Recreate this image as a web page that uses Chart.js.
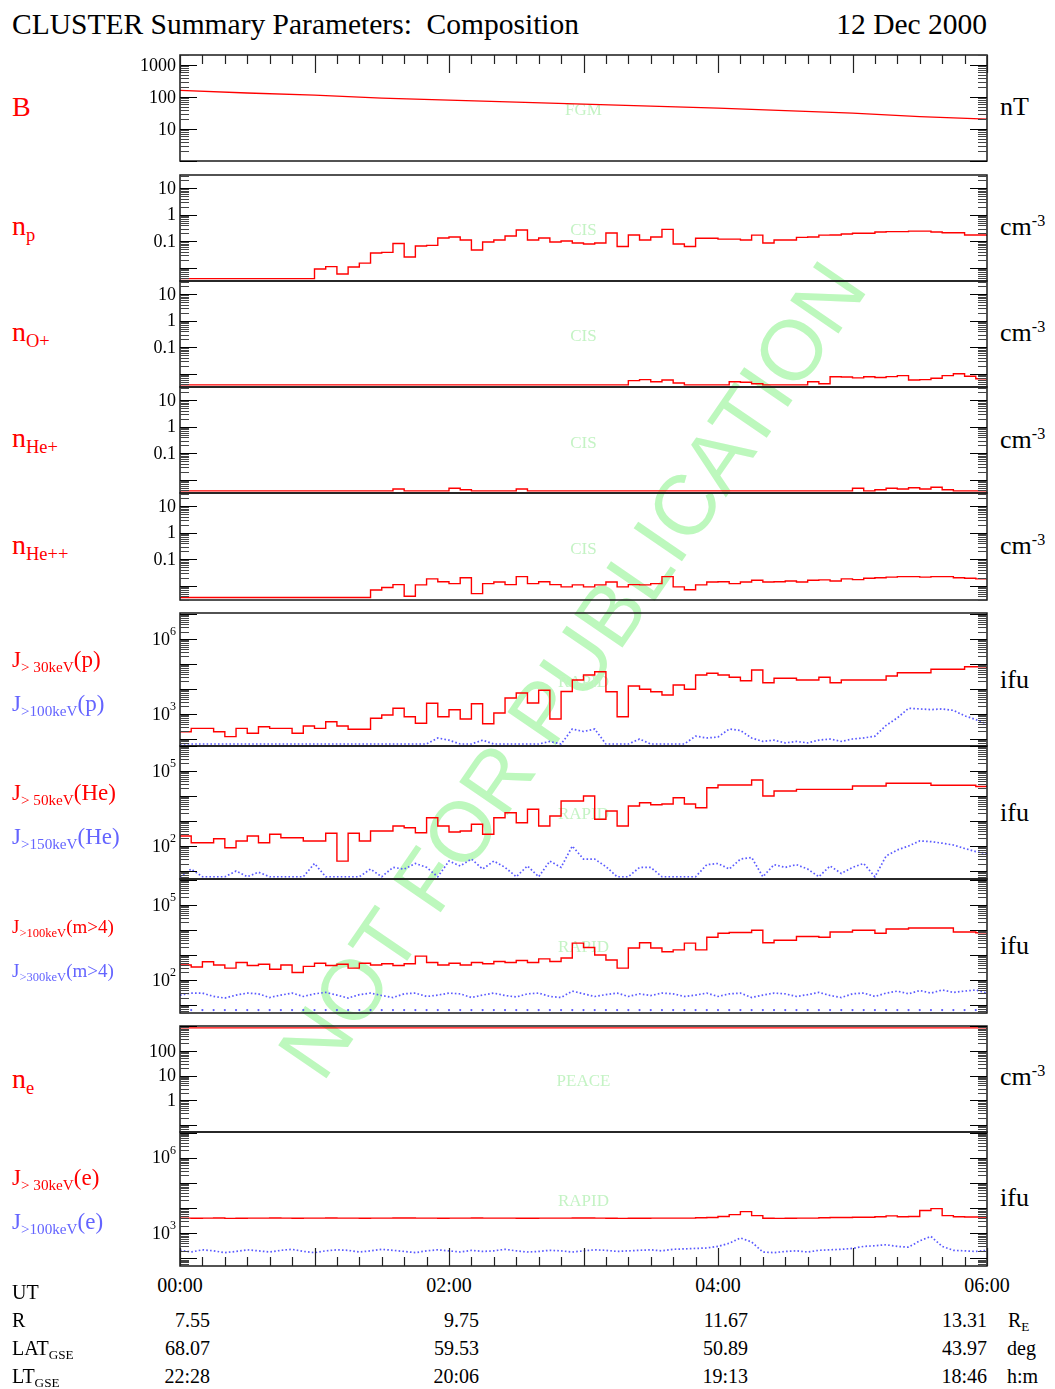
<!DOCTYPE html>
<html>
<head>
<meta charset="utf-8">
<title>CLUSTER Summary Parameters: Composition</title>
<script src="https://cdn.jsdelivr.net/npm/chart.js@4.4.1/dist/chart.umd.min.js"></script>
<style>
  body { margin: 0; background: #fff; }
  #page { position: relative; width: 1055px; height: 1389px; overflow: hidden;
          font-family: "Liberation Serif", "DejaVu Serif", serif; }
  #page canvas { position: absolute; z-index: 1; }
  .wm { position: absolute; left: 572px; top: 670px; z-index: 0;
        transform: translate(-50%, -50%) rotate(-55.5deg);
        font-family: "Liberation Sans", Arial, sans-serif; font-size: 85px;
        color: #bdf8bd; white-space: nowrap; }
  .t { position: absolute; z-index: 2; white-space: nowrap; line-height: 1; }
  .red { color: #ff0000; }
  .blue { color: #6464ff; }
  .t sub { font-size: 66%; vertical-align: -0.3em; line-height: 0; }
  .t sup { font-size: 62%; vertical-align: 0.55em; line-height: 0; }
  .c { transform: translateX(-50%); }
</style>
</head>
<body>
<div id="page">
  <div class="wm">NOT FOR PUBLICATION</div>

  <div class="t" style="left:12px;top:10px;font-size:29.5px">CLUSTER Summary Parameters:&nbsp; Composition</div>
  <div class="t" style="right:68px;top:10px;font-size:29.5px">12 Dec 2000</div>

  <!-- left labels -->
  <div class="t red" style="left:12px;top:93px;font-size:28px">B</div>
  <div class="t red" style="left:12px;top:212px;font-size:28px">n<sub>p</sub></div>
  <div class="t red" style="left:12px;top:318px;font-size:28px">n<sub>O+</sub></div>
  <div class="t red" style="left:12px;top:424px;font-size:28px">n<sub>He+</sub></div>
  <div class="t red" style="left:12px;top:531px;font-size:28px">n<sub>He++</sub></div>
  <div class="t red" style="left:12px;top:648px;font-size:23px">J<sub>&gt; 30keV</sub>(p)</div>
  <div class="t blue" style="left:12px;top:692px;font-size:23px">J<sub>&gt;100keV</sub>(p)</div>
  <div class="t red" style="left:12px;top:781px;font-size:23px">J<sub>&gt; 50keV</sub>(He)</div>
  <div class="t blue" style="left:12px;top:825px;font-size:23px">J<sub>&gt;150keV</sub>(He)</div>
  <div class="t red" style="left:12px;top:917px;font-size:19px">J<sub>&gt;100keV</sub>(m&gt;4)</div>
  <div class="t blue" style="left:12px;top:961px;font-size:19px">J<sub>&gt;300keV</sub>(m&gt;4)</div>
  <div class="t red" style="left:12px;top:1065px;font-size:28px">n<sub>e</sub></div>
  <div class="t red" style="left:12px;top:1166px;font-size:23px">J<sub>&gt; 30keV</sub>(e)</div>
  <div class="t blue" style="left:12px;top:1210px;font-size:23px">J<sub>&gt;100keV</sub>(e)</div>

  <!-- right units -->
  <div class="t" style="left:1000px;top:94px;font-size:26px">nT</div>
  <div class="t" style="left:1000px;top:214px;font-size:26px">cm<sup>-3</sup></div>
  <div class="t" style="left:1000px;top:320px;font-size:26px">cm<sup>-3</sup></div>
  <div class="t" style="left:1000px;top:427px;font-size:26px">cm<sup>-3</sup></div>
  <div class="t" style="left:1000px;top:533px;font-size:26px">cm<sup>-3</sup></div>
  <div class="t" style="left:1000px;top:667px;font-size:26px">ifu</div>
  <div class="t" style="left:1000px;top:800px;font-size:26px">ifu</div>
  <div class="t" style="left:1000px;top:933px;font-size:26px">ifu</div>
  <div class="t" style="left:1000px;top:1064px;font-size:26px">cm<sup>-3</sup></div>
  <div class="t" style="left:1000px;top:1185px;font-size:26px">ifu</div>

  <!-- orbit rows -->
  <div class="t" style="left:12px;top:1282px;font-size:20px">UT</div>
  <div class="t c" style="left:180px;top:1275px;font-size:20px">00:00</div>
  <div class="t c" style="left:449px;top:1275px;font-size:20px">02:00</div>
  <div class="t c" style="left:718px;top:1275px;font-size:20px">04:00</div>
  <div class="t c" style="left:987px;top:1275px;font-size:20px">06:00</div>

  <div class="t" style="left:12px;top:1310px;font-size:20px">R</div>
  <div class="t" style="right:845px;top:1310px;font-size:20px">7.55</div>
  <div class="t" style="right:576px;top:1310px;font-size:20px">9.75</div>
  <div class="t" style="right:307px;top:1310px;font-size:20px">11.67</div>
  <div class="t" style="right:68px;top:1310px;font-size:20px">13.31</div>
  <div class="t" style="left:1008px;top:1310px;font-size:20px">R<sub>E</sub></div>

  <div class="t" style="left:12px;top:1338px;font-size:20px">LAT<sub>GSE</sub></div>
  <div class="t" style="right:845px;top:1338px;font-size:20px">68.07</div>
  <div class="t" style="right:576px;top:1338px;font-size:20px">59.53</div>
  <div class="t" style="right:307px;top:1338px;font-size:20px">50.89</div>
  <div class="t" style="right:68px;top:1338px;font-size:20px">43.97</div>
  <div class="t" style="left:1007px;top:1338px;font-size:20px">deg</div>

  <div class="t" style="left:12px;top:1366px;font-size:20px">LT<sub>GSE</sub></div>
  <div class="t" style="right:845px;top:1366px;font-size:20px">22:28</div>
  <div class="t" style="right:576px;top:1366px;font-size:20px">20:06</div>
  <div class="t" style="right:307px;top:1366px;font-size:20px">19:13</div>
  <div class="t" style="right:68px;top:1366px;font-size:20px">18:46</div>
  <div class="t" style="left:1007px;top:1366px;font-size:20px">h:m</div>
</div>

<script>
/*---------- Time axes (minutes after 00:00 UT) ----------*/
const minutes = [0, 5, 10, 15, 20, 25, 30, 35, 40, 45, 50, 55,
  60, 65, 70, 75, 80, 85, 90, 95, 100, 105, 110, 115,
  120, 125, 130, 135, 140, 145, 150, 155, 160, 165, 170, 175,
  180, 185, 190, 195, 200, 205, 210, 215, 220, 225, 230, 235,
  240, 245, 250, 255, 260, 265, 270, 275, 280, 285, 290, 295,
  300, 305, 310, 315, 320, 325, 330, 335, 340, 345, 350, 355, 360];
const halfHours = [0, 30, 60, 90, 120, 150, 180, 210, 240, 270, 300, 330, 360];

/*---------- Tick labels ----------*/
const bTicks = [10, 100, 1000];
const densTicks = [0.1, 1, 10];
const fluxTicksP = [1e3, 1e6];
const fluxTicksHe = [1e2, 1e5];
const eDensTicks = [1, 10, 100];

/*---------- FGM field magnitude (nT) ----------*/
const bField = [161, 133, 115, 92, 80, 69, 60, 52, 45, 37.6, 31.5, 24.5, 20.4];

/*---------- CIS densities (cm-3) ----------*/
const protonDens = [
  0.0039, 0.0039, 0.0039, 0.0039, 0.0039, 0.0039, 0.0039, 0.0039, 0.0039, 0.0039,
  0.0039, 0.0039, 0.009, 0.011, 0.0058, 0.0107, 0.015, 0.036, 0.038, 0.082,
  0.0255, 0.066, 0.07, 0.133, 0.145, 0.111, 0.047, 0.094, 0.111, 0.158,
  0.266, 0.111, 0.133, 0.094, 0.102, 0.086, 0.079, 0.086, 0.205, 0.063,
  0.172, 0.111, 0.145, 0.28, 0.079, 0.063, 0.13, 0.13, 0.12, 0.12,
  0.111, 0.17, 0.086, 0.111, 0.111, 0.14, 0.145, 0.17, 0.172, 0.188,
  0.2, 0.2, 0.224, 0.23, 0.23, 0.24, 0.24, 0.224, 0.21, 0.21,
  0.172, 0.172, 0.158];
const oxygenDens = [
  0.0038, 0.0038, 0.0038, 0.0038, 0.0038, 0.0038, 0.0038, 0.0038, 0.0038, 0.0038,
  0.0038, 0.0038, 0.0038, 0.0038, 0.0038, 0.0038, 0.0038, 0.0038, 0.0038, 0.0038,
  0.0038, 0.0038, 0.0038, 0.0038, 0.0038, 0.0038, 0.0038, 0.0038, 0.0038, 0.0038,
  0.0038, 0.0038, 0.0038, 0.0038, 0.0038, 0.0038, 0.0038, 0.0038, 0.0038, 0.0038,
  0.0055, 0.006, 0.005, 0.0058, 0.0045, 0.0038, 0.0038, 0.0038, 0.0038, 0.005,
  0.0048, 0.0042, 0.0038, 0.0038, 0.0038, 0.0038, 0.005, 0.0042, 0.0077, 0.0075,
  0.007, 0.0077, 0.0072, 0.0078, 0.0085, 0.0058, 0.006, 0.0068, 0.0085, 0.01,
  0.008, 0.0065, 0.0062];
const heliumDens = [
  0.0038, 0.0038, 0.0038, 0.0038, 0.0038, 0.0038, 0.0038, 0.0038, 0.0038, 0.0038,
  0.0038, 0.0038, 0.0038, 0.0038, 0.0038, 0.0038, 0.0038, 0.0038, 0.0038, 0.0045,
  0.0038, 0.0038, 0.0038, 0.0038, 0.0048, 0.0042, 0.0038, 0.0038, 0.0038, 0.0038,
  0.0045, 0.0038, 0.0038, 0.0038, 0.0038, 0.0038, 0.0038, 0.0038, 0.0038, 0.0038,
  0.0038, 0.0038, 0.0038, 0.0038, 0.0038, 0.0038, 0.0038, 0.0038, 0.0038, 0.0038,
  0.0038, 0.0038, 0.0038, 0.0038, 0.0038, 0.0038, 0.0038, 0.0038, 0.0038, 0.0038,
  0.0048, 0.0038, 0.0042, 0.0048, 0.0045, 0.005, 0.0045, 0.0052, 0.0042, 0.0038,
  0.0038, 0.0038, 0.0038];
const alphaDens = [
  0.0036, 0.0036, 0.0036, 0.0036, 0.0036, 0.0036, 0.0036, 0.0036, 0.0036, 0.0036,
  0.0036, 0.0036, 0.0036, 0.0036, 0.0036, 0.0036, 0.0036, 0.0069, 0.0085, 0.011,
  0.004, 0.0107, 0.018, 0.014, 0.012, 0.02, 0.005, 0.012, 0.0138, 0.011,
  0.022, 0.012, 0.014, 0.011, 0.009, 0.0107, 0.009, 0.0107, 0.0138, 0.009,
  0.011, 0.0107, 0.012, 0.022, 0.009, 0.007, 0.0107, 0.0138, 0.014, 0.012,
  0.0138, 0.016, 0.0138, 0.014, 0.015, 0.0138, 0.016, 0.0165, 0.015, 0.018,
  0.017, 0.019, 0.02, 0.021, 0.022, 0.022, 0.021, 0.022, 0.022, 0.02,
  0.019, 0.018, 0.017];

/*---------- RAPID ion fluxes (ifu) ----------*/
const protonFlux = [
  196, 267, 267, 196, 124, 267, 169, 311, 267, 267,
  169, 331, 267, 493, 331, 244, 244, 673, 912, 1690,
  780, 425, 2680, 780, 1480, 630, 2570, 409, 1096, 4370,
  6920, 2750, 8870, 630, 8000, 22900, 36300, 49200, 7800, 780,
  13200, 9730, 7800, 5750, 14500, 9730, 36300, 42500, 36300, 29400,
  21500, 57500, 17900, 26800, 26800, 22900, 22900, 29400, 17900, 22900,
  22900, 22900, 22900, 33100, 44900, 44900, 44900, 61400, 61400, 61400,
  78000, 78000, 70000];
const protonFluxHi = [
  63, 63, 63, 63, 63, 63, 63, 63, 63, 63,
  63, 63, 63, 63, 63, 63, 63, 63, 63, 63,
  63, 63, 63, 110, 90, 63, 63, 90, 63, 63,
  63, 63, 63, 80, 63, 250, 200, 250, 63, 63,
  63, 100, 63, 63, 63, 63, 130, 110, 120, 250,
  220, 110, 80, 90, 70, 80, 70, 90, 100, 80,
  100, 110, 130, 350, 700, 1700, 1600, 1500, 1600, 1400,
  850, 600, 400];
const heliumFlux = [
  251, 136, 136, 196, 85, 158, 251, 136, 294, 215,
  215, 158, 158, 322, 25, 322, 158, 400, 400, 630,
  540, 340, 1355, 630, 363, 400, 738, 294, 1355, 2150,
  855, 2940, 630, 1585, 6300, 6300, 10000, 1170, 2500, 630,
  4000, 5400, 4500, 4800, 8550, 4800, 3400, 21500, 27500, 27500,
  27500, 43700, 10000, 15800, 15800, 18500, 18500, 18500, 18500, 18500,
  25100, 25100, 25100, 32200, 32200, 32200, 32200, 26800, 26800, 26800,
  26800, 24000, 26800];
const heliumFluxHi = [
  5.9, 12, 5.9, 5.9, 5.9, 10, 5.9, 9, 5.9, 5.9,
  5.9, 5.9, 20, 5.9, 5.9, 5.9, 5.9, 12, 5.9, 14,
  12, 20, 14, 5.9, 25, 16, 30, 12, 25, 14,
  5.9, 16, 5.9, 25, 14, 100, 30, 30, 15, 5.9,
  5.9, 14, 14, 5.9, 5.9, 5.9, 5.9, 18, 20, 12,
  30, 35, 5.9, 18, 14, 18, 12, 5.9, 16, 8,
  14, 20, 5.9, 40, 70, 100, 160, 150, 130, 110,
  80, 60, 50];
const heavyFlux = [
  400, 330, 540, 400, 300, 500, 380, 430, 270, 400,
  200, 350, 470, 380, 430, 300, 470, 400, 450, 380,
  450, 900, 500, 400, 470, 400, 500, 450, 550, 500,
  600, 500, 700, 550, 760, 3000, 2000, 1000, 630, 300,
  1900, 3100, 1900, 1350, 1600, 3000, 1600, 5100, 7400, 8000,
  8000, 9800, 3100, 3900, 3900, 5500, 5500, 5100, 8300, 8300,
  9800, 9800, 7400, 11000, 11000, 12000, 12000, 12000, 12000, 8300,
  8300, 7800, 7800];
const heavyFluxHi = [
  25, 30, 30, 22, 19, 25, 30, 28, 20, 25,
  30, 22, 28, 32, 25, 19, 26, 30, 24, 20,
  28, 30, 22, 25, 30, 28, 20, 25, 30, 24,
  21, 28, 30, 22, 20, 36, 28, 22, 26, 30,
  22, 28, 24, 30, 28, 22, 25, 30, 22, 28,
  30, 20, 25, 30, 28, 22, 26, 32, 24, 20,
  28, 30, 22, 30, 36, 28, 38, 30, 40, 32,
  36, 40, 30];
const heavyFluxFloor = [
  6.3, 6.3, 6.3, 6.3, 6.3, 6.3, 6.3, 6.3, 6.3, 6.3,
  6.3, 6.3, 6.3, 6.3, 6.3, 6.3, 6.3, 6.3, 6.3, 6.3,
  6.3, 6.3, 6.3, 6.3, 6.3, 6.3, 6.3, 6.3, 6.3, 6.3,
  6.3, 6.3, 6.3, 6.3, 6.3, 6.3, 6.3, 6.3, 6.3, 6.3,
  6.3, 6.3, 6.3, 6.3, 6.3, 6.3, 6.3, 6.3, 6.3, 6.3,
  6.3, 6.3, 6.3, 6.3, 6.3, 6.3, 6.3, 6.3, 6.3, 6.3,
  6.3, 6.3, 6.3, 6.3, 6.3, 6.3, 6.3, 6.3, 6.3, 6.3,
  6.3, 6.3, 6.3];

/*---------- PEACE / RAPID electrons ----------*/
const electronDens = [850, 850, 850, 850, 850, 850, 850, 850, 850, 850, 850, 850, 850];
const electronFlux = [
  4000, 3950, 4000, 4050, 3900, 3950, 4000, 4000, 4050, 4000,
  3950, 4000, 4000, 4050, 4000, 4000, 3950, 4000, 4000, 4050,
  4050, 4000, 4000, 3950, 4000, 4000, 4050, 4000, 4000, 4000,
  3950, 3950, 4000, 4000, 4000, 4050, 4050, 4000, 3950, 3900,
  3950, 3950, 4000, 4000, 4000, 4000, 4100, 4200, 4600, 5500,
  7200, 5000, 3950, 3900, 3950, 4000, 4000, 4100, 4200, 4200,
  4300, 4300, 4500, 4900, 4500, 4600, 8000, 9500, 5000, 4500,
  4400, 4400, 4300];
const electronFluxHi = [
  210, 180, 220, 200, 170, 190, 220, 200, 180, 210,
  230, 190, 170, 200, 220, 210, 180, 200, 230, 210,
  190, 170, 200, 220, 200, 180, 210, 190, 200, 230,
  200, 180, 190, 210, 200, 180, 200, 220, 210, 190,
  200, 210, 220, 200, 230, 240, 250, 260, 300, 400,
  650, 450, 180, 170, 190, 200, 180, 210, 220, 230,
  250, 300, 320, 350, 300, 280, 500, 750, 300, 210,
  200, 190, 210];

/*---------- Styles ----------*/
const RED = "#ff0000";
const BLUE = "#5a5aff";
const TAG_GREEN = "#c4f3c4";
const PAD = 4;

function pairs(xs, ys) {
  return xs.map((x, i) => ({ x: x, y: ys[i] }));
}
function lineSet(xs, ys) {
  return { data: pairs(xs, ys), borderColor: RED, borderWidth: 1.3, pointRadius: 0 };
}
function stepSet(xs, ys) {
  return { data: pairs(xs, ys), borderColor: RED, borderWidth: 1.4, stepped: true, pointRadius: 0 };
}
function dotSet(xs, ys) {
  return { data: pairs(xs, ys), borderColor: BLUE, borderWidth: 1.7, borderDash: [1.6, 2.2], pointRadius: 0 };
}
function pointSet(xs, ys) {
  return { data: pairs(xs, ys), showLine: false, pointRadius: 1.1, pointBorderWidth: 0,
           pointBackgroundColor: BLUE };
}

/*---------- Panel layout ----------*/
const panels = [
  { top: 55, bottom: 161, min: 1, max: 2050, ticks: bTicks, pow: false, tag: "FGM", tagY: 111, time: "top",
    sets: [lineSet(halfHours, bField)] },
  { top: 175, bottom: 281, min: 0.00316, max: 31.6, ticks: densTicks, pow: false, tag: "CIS", tagY: 231,
    sets: [stepSet(minutes, protonDens)] },
  { top: 281, bottom: 387, min: 0.00316, max: 31.6, ticks: densTicks, pow: false, tag: "CIS", tagY: 337,
    sets: [stepSet(minutes, oxygenDens)] },
  { top: 387, bottom: 493, min: 0.00316, max: 31.6, ticks: densTicks, pow: false, tag: "CIS", tagY: 444,
    sets: [stepSet(minutes, heliumDens)] },
  { top: 493, bottom: 600, min: 0.00288, max: 31.6, ticks: densTicks, pow: false, tag: "CIS", tagY: 550,
    sets: [stepSet(minutes, alphaDens)] },
  { top: 613, bottom: 746, min: 52.5, max: 1.1e7, ticks: fluxTicksP, pow: true, tag: "RAPID", tagY: 683,
    sets: [dotSet(minutes, protonFluxHi), stepSet(minutes, protonFlux)] },
  { top: 746, bottom: 879, min: 4.8, max: 1e6, ticks: fluxTicksHe, pow: true, tag: "RAPID", tagY: 815,
    sets: [dotSet(minutes, heliumFluxHi), stepSet(minutes, heliumFlux)] },
  { top: 879, bottom: 1013, min: 4.8, max: 1.096e6, ticks: fluxTicksHe, pow: true, tag: "RAPID", tagY: 948,
    sets: [pointSet(minutes, heavyFluxFloor), dotSet(minutes, heavyFluxHi), stepSet(minutes, heavyFlux)] },
  { top: 1026, bottom: 1132, min: 0.0525, max: 1020, ticks: eDensTicks, pow: false, tag: "PEACE", tagY: 1082,
    sets: [lineSet(halfHours, electronDens)] },
  { top: 1132, bottom: 1266, min: 50.1, max: 1.047e7, ticks: fluxTicksP, pow: true, tag: "RAPID", tagY: 1202,
    time: "bottom", sets: [dotSet(minutes, electronFluxHi), stepSet(minutes, electronFlux)] },
];

/*---------- Frame, log ticks, labels ----------*/
const panelPlugin = {
  id: "panel",
  beforeDatasetsDraw(chart, args, o) {
    const ctx = chart.ctx, a = chart.chartArea;
    ctx.save();
    ctx.font = '17px "Liberation Serif", serif';
    ctx.fillStyle = TAG_GREEN;
    ctx.textAlign = "center";
    ctx.textBaseline = "middle";
    ctx.fillText(o.tag, (a.left + a.right) / 2, o.tagY - o.top + PAD);
    ctx.restore();
  },
  afterDatasetsDraw(chart, args, o) {
    const ctx = chart.ctx, a = chart.chartArea;
    const ys = chart.scales.y, xs = chart.scales.x;
    ctx.save();
    ctx.strokeStyle = "#1a1a1a";
    ctx.lineWidth = 1.5;
    ctx.strokeRect(a.left, a.top, a.right - a.left, a.bottom - a.top);

    // log ticks on both sides
    ctx.lineWidth = 1.1;
    const lo = Math.floor(Math.log10(ys.min)), hi = Math.ceil(Math.log10(ys.max));
    for (let d = lo; d <= hi; d++) {
      for (let k = 1; k < 10; k++) {
        const v = k * Math.pow(10, d);
        if (v < ys.min || v > ys.max) continue;
        const y = Math.round(ys.getPixelForValue(v)) + 0.5;
        const len = k === 1 ? 17 : 9;
        ctx.strokeStyle = k === 1 ? "#000" : "#444";
        ctx.beginPath();
        ctx.moveTo(a.left, y); ctx.lineTo(a.left + len, y);
        ctx.moveTo(a.right, y); ctx.lineTo(a.right - len, y);
        ctx.stroke();
      }
    }

    // tick labels
    ctx.fillStyle = "#000";
    ctx.textAlign = "right";
    ctx.textBaseline = "middle";
    o.ticks.forEach((v) => {
      const y = ys.getPixelForValue(v), rx = a.left - 4;
      if (o.pow) {
        const e = String(Math.round(Math.log10(v)));
        ctx.font = '12px "Liberation Serif", serif';
        const ew = ctx.measureText(e).width;
        ctx.fillText(e, rx, y - 7);
        ctx.font = '18px "Liberation Serif", serif';
        ctx.fillText("10", rx - ew, y + 1);
      } else {
        ctx.font = '18px "Liberation Serif", serif';
        ctx.fillText(String(v), rx, y + 1);
      }
    });

    // time ticks: 10 min minor, 1 h major
    if (o.time) {
      ctx.strokeStyle = "#222";
      ctx.lineWidth = 1.2;
      for (let m = 0; m <= 360; m += 10) {
        const x = Math.round(xs.getPixelForValue(m)) + 0.5;
        const len = m % 60 === 0 ? 18 : 9;
        ctx.beginPath();
        if (o.time === "top") { ctx.moveTo(x, a.top); ctx.lineTo(x, a.top + len); }
        else { ctx.moveTo(x, a.bottom); ctx.lineTo(x, a.bottom - len); }
        ctx.stroke();
      }
    }
    ctx.restore();
  },
};

/*---------- Build one chart per panel ----------*/
const page = document.getElementById("page");
panels.forEach((p) => {
  const canvas = document.createElement("canvas");
  canvas.width = 900;
  canvas.height = p.bottom - p.top + 2 * PAD;
  canvas.style.left = "100px";
  canvas.style.top = (p.top - PAD) + "px";
  page.appendChild(canvas);

  new Chart(canvas, {
    type: "line",
    data: { datasets: p.sets },
    options: {
      responsive: false,
      animation: false,
      devicePixelRatio: 1,
      layout: { padding: { left: 80, right: 13, top: PAD, bottom: PAD } },
      scales: {
        x: { type: "linear", min: 0, max: 360, display: false },
        y: { type: "logarithmic", min: p.min, max: p.max, display: false },
      },
      plugins: {
        legend: { display: false },
        tooltip: { enabled: false },
        panel: { top: p.top, tag: p.tag, tagY: p.tagY, ticks: p.ticks, pow: p.pow, time: p.time },
      },
    },
    plugins: [panelPlugin],
  });
});
</script>
</body>
</html>
